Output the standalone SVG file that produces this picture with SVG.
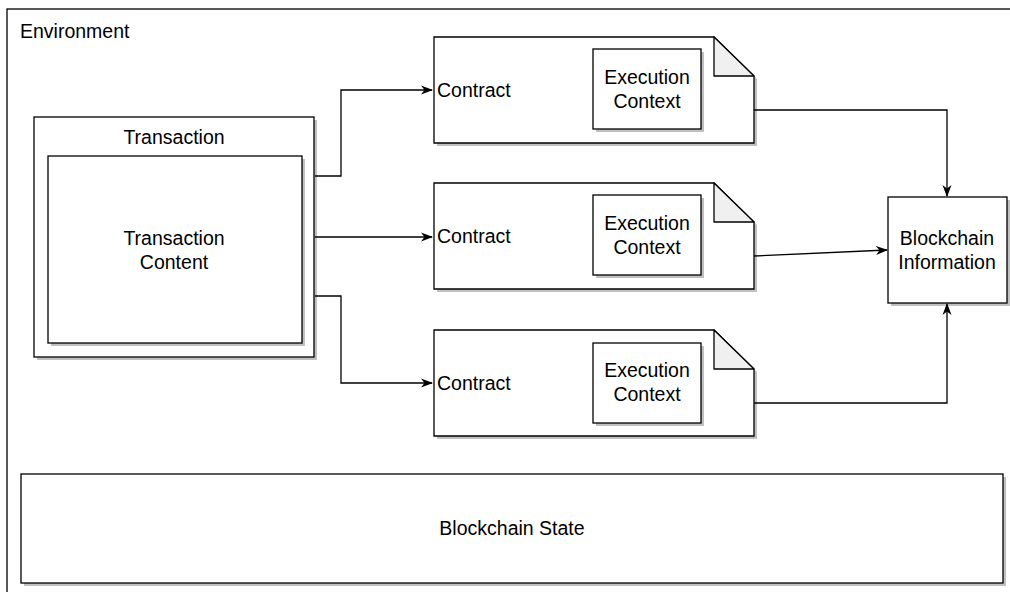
<svg xmlns="http://www.w3.org/2000/svg" width="1010" height="592" viewBox="0 0 1010 592">
<defs>
<style>
.b{fill:#fff;stroke:#000;stroke-width:1.3}
.s{fill:#c0c0c0;stroke:none}
.f{fill:#f0f0f0;stroke:#000;stroke-width:1.3;stroke-linejoin:round}
.t{font-family:"Liberation Sans",Arial,sans-serif;font-size:19.5px;fill:#000}
.c{text-anchor:middle}
.e{fill:none;stroke:#000;stroke-width:1.3}
</style>
<marker id="a" viewBox="0 0 12 12" refX="11" refY="6" markerWidth="12" markerHeight="12" markerUnits="userSpaceOnUse" orient="auto">
<path d="M0,1.5 L12,6 L0,10.5 L3.5,6 Z" fill="#000"/>
</marker>
</defs>
<rect width="1010" height="592" fill="#fff"/>
<g id="environment">
<rect class="b" x="7" y="9" width="1010" height="600"/>
<text class="t" x="20" y="38">Environment</text>
</g>
<g id="transaction">
<rect class="s" x="37" y="120" width="280" height="240"/>
<rect class="b" x="34" y="117" width="280" height="240"/>
<text class="t c" x="174" y="144">Transaction</text>
</g>
<g id="transaction-content">
<rect class="s" x="51" y="159" width="254" height="187"/>
<rect class="b" x="48" y="156" width="254" height="187"/>
<text class="t c" x="174" y="245">Transaction</text>
<text class="t c" x="174" y="269">Content</text>
</g>
<g id="contract1">
<path class="s" d="M437,40 H717 L757,79 V146 H437 Z"/>
<path class="b" d="M434,37 H714 L754,76 V143 H434 Z"/>
<path class="f" d="M714,37 V76 H754 Z"/>
<text class="t" x="437" y="97">Contract</text>
</g>
<g id="exec1">
<rect class="s" x="596" y="52" width="108" height="80"/>
<rect class="b" x="593" y="49" width="108" height="80"/>
<text class="t c" x="647" y="84">Execution</text>
<text class="t c" x="647" y="108">Context</text>
</g>
<g id="contract2">
<path class="s" d="M437,186 H717 L757,225 V292 H437 Z"/>
<path class="b" d="M434,183 H714 L754,222 V289 H434 Z"/>
<path class="f" d="M714,183 V222 H754 Z"/>
<text class="t" x="437" y="243">Contract</text>
</g>
<g id="exec2">
<rect class="s" x="596" y="198" width="108" height="80"/>
<rect class="b" x="593" y="195" width="108" height="80"/>
<text class="t c" x="647" y="230">Execution</text>
<text class="t c" x="647" y="254">Context</text>
</g>
<g id="contract3">
<path class="s" d="M437,333 H717 L757,372 V439 H437 Z"/>
<path class="b" d="M434,330 H714 L754,369 V436 H434 Z"/>
<path class="f" d="M714,330 V369 H754 Z"/>
<text class="t" x="437" y="390">Contract</text>
</g>
<g id="exec3">
<rect class="s" x="596" y="346" width="108" height="80"/>
<rect class="b" x="593" y="343" width="108" height="80"/>
<text class="t c" x="647" y="377">Execution</text>
<text class="t c" x="647" y="401">Context</text>
</g>
<g id="blockchain-information">
<rect class="s" x="891" y="200" width="119" height="106"/>
<rect class="b" x="888" y="197" width="119" height="106"/>
<text class="t c" x="947" y="245">Blockchain</text>
<text class="t c" x="947" y="269">Information</text>
</g>
<g id="blockchain-state">
<rect class="s" x="24" y="477" width="982" height="109"/>
<rect class="b" x="21" y="474" width="982" height="109"/>
<text class="t c" x="512" y="535">Blockchain State</text>
</g>
<g id="connectors">
<path class="e" d="M315,176 H341 V90 H432" marker-end="url(#a)"/>
<path class="e" d="M315,237 H432" marker-end="url(#a)"/>
<path class="e" d="M315,296 H341 V383 H432" marker-end="url(#a)"/>
<path class="e" d="M754,110 H947 V196" marker-end="url(#a)"/>
<path class="e" d="M754,256 L887,250" marker-end="url(#a)"/>
<path class="e" d="M754,403 H947 V304" marker-end="url(#a)"/>
</g>
</svg>
